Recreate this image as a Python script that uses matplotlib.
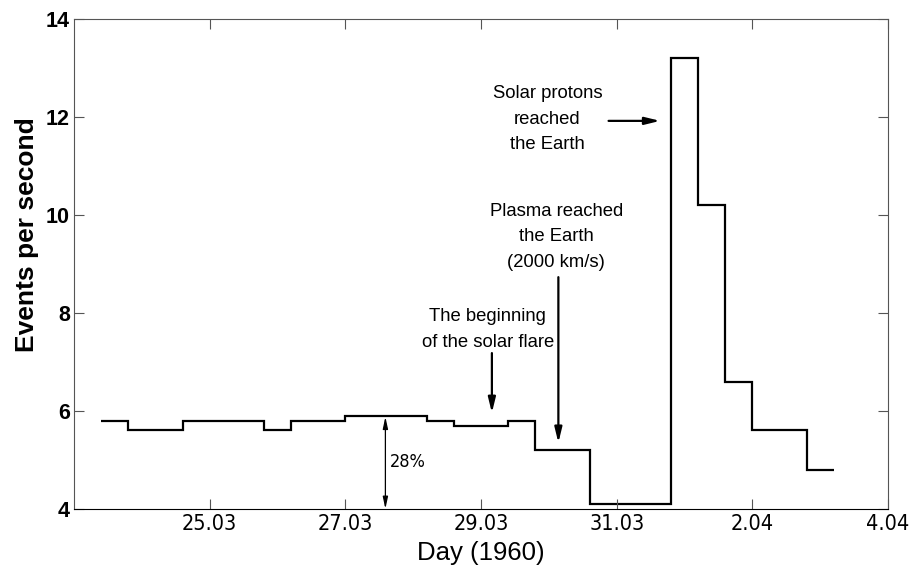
#!/usr/bin/env python3

import matplotlib
matplotlib.use('Agg')
import matplotlib.pyplot as plt

# ------------------------------------------
# Data (day of March 1960; 33 = 2 April)
# ------------------------------------------
edges = [23.4, 23.8, 24.6, 25.8, 26.2, 27.0, 28.2, 28.6, 29.4, 29.8,
         30.6, 31.8, 32.2, 32.6, 33.0, 33.8, 34.2]
rates = [5.8, 5.6, 5.8, 5.6, 5.8, 5.9, 5.8, 5.7, 5.8, 5.2,
         4.1, 13.2, 10.2, 6.6, 5.6, 4.8]

tick_days = [25, 27, 29, 31, 33, 35]
tick_labels = ['25.03', '27.03', '29.03', '31.03', '2.04', '4.04']
y_ticks = [4, 6, 8, 10, 12, 14]


def main():
    plt.rcParams['font.family'] = ['Liberation Sans', 'DejaVu Sans']
    narrow = dict(family=['DejaVu Sans'], stretch='condensed')

    fig = plt.figure(figsize=(9.14, 5.75), dpi=100)
    ax = fig.add_axes([0.081, 0.115, 0.8906, 0.852])

    ax.stairs(rates, edges, color='black', linewidth=1.6, baseline=None)

    ax.set_xlim(23, 35)
    ax.set_ylim(4, 14)
    ax.set_xticks(tick_days)
    ax.set_xticklabels(tick_labels, fontsize=15.5, **narrow)
    ax.set_yticks(y_ticks)
    ax.set_yticklabels([str(v) for v in y_ticks], fontsize=15.5,
                       fontweight='bold')
    ax.tick_params(direction='in', length=7, top=True, right=True,
                   color='#555555', pad=4)
    ax.tick_params(axis='y', pad=3)
    for side in ['top', 'right', 'left']:
        ax.spines[side].set_color('#555555')
    ax.spines['bottom'].set_color('black')

    ax.set_xlabel('Day (1960)', fontsize=18.5, labelpad=5)
    ax.set_ylabel('Events per second', fontsize=19, fontweight='bold')
    ax.yaxis.set_label_coords(-0.043, 0.56)

    # ------------------------------------------
    # Annotations
    # ------------------------------------------
    arrow = dict(arrowstyle='-|>,head_width=0.22,head_length=0.9',
                 color='black', lw=1.6, shrinkA=0, shrinkB=0)

    ax.text(29.98, 11.95, 'Solar protons\nreached\nthe Earth', ha='center',
            va='center', fontsize=13.3, linespacing=1.65)
    ax.annotate('', xy=(31.64, 11.92), xytext=(30.88, 11.92),
                arrowprops=arrow)

    ax.text(30.11, 9.55, 'Plasma reached\nthe Earth\n(2000 km/s)',
            ha='center', va='center', fontsize=13.3, linespacing=1.65)
    ax.annotate('', xy=(30.14, 5.35), xytext=(30.14, 8.73),
                arrowprops=arrow)

    ax.text(29.1, 7.66, 'The beginning\nof the solar flare', ha='center',
            va='center', fontsize=13.3, linespacing=1.65)
    ax.annotate('', xy=(29.16, 5.96), xytext=(29.16, 7.18),
                arrowprops=arrow)

    thin = dict(arrowstyle='<|-|>,head_width=0.15,head_length=0.7',
                color='black', lw=0.9, shrinkA=0, shrinkB=0)
    ax.annotate('', xy=(27.59, 5.88), xytext=(27.59, 4.0), arrowprops=thin)
    ax.text(27.66, 4.96, '28%', fontsize=13, ha='left', va='center',
            **narrow)

    fig.savefig('out.png', dpi=100)


if __name__ == "__main__":
    main()
